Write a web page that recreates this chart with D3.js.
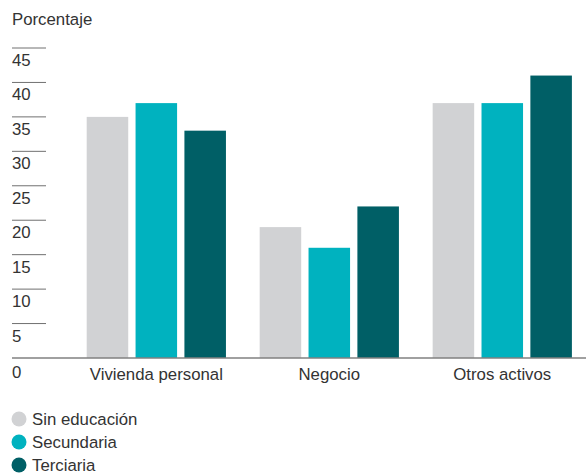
<!DOCTYPE html>
<html>
<head>
<meta charset="utf-8">
<script src="https://cdn.jsdelivr.net/npm/d3@7"></script>
<style>
  html, body { margin: 0; padding: 0; background: #fff; }
  svg { display: block; }
  text { font-family: "Liberation Sans", Arial, sans-serif; fill: #333; }
</style>
</head>
<body>
<svg id="chart" width="586" height="474"></svg>
<script>
// Categories and series
const categories = ["Vivienda personal", "Negocio", "Otros activos"];
const seriesNames = ["Sin educación", "Secundaria", "Terciaria"];
const seriesColors = ["#d1d2d4", "#00b2bf", "#005f66"];
const sinEducacion = [35, 19, 37];
const secundaria = [37, 16, 37];
const terciaria = [33, 22, 41];
const tickValues = [0, 5, 10, 15, 20, 25, 30, 35, 40, 45];
const yTitle = "Porcentaje";

const seriesValues = [sinEducacion, secundaria, terciaria];

const svg = d3.select("#chart");
const W = 586;
const FS = 16.8;

const y = d3.scaleLinear().domain([0, 45]).range([358, 48]);

const x0 = d3.scaleBand()
  .domain(categories)
  .range([69.4, 589.2])
  .paddingInner(0.195)
  .paddingOuter(0.1);

const x1 = d3.scaleBand()
  .domain(seriesNames)
  .range([0, x0.bandwidth()])
  .paddingInner(0.15)
  .paddingOuter(0);

// Axis title
svg.append("text")
  .attr("x", 12)
  .attr("y", 25)
  .attr("font-size", FS)
  .text(yTitle);

// Y ticks: short rule above each label
const yTicks = svg.append("g");
tickValues.filter(v => v > 0).forEach(v => {
  yTicks.append("line")
    .attr("x1", 12).attr("x2", 46)
    .attr("y1", y(v)).attr("y2", y(v))
    .attr("stroke", "#707070").attr("stroke-width", 1);
});
tickValues.forEach(v => {
  yTicks.append("text")
    .attr("x", 12)
    .attr("y", y(v) + (v === 0 ? 20 : 18))
    .attr("font-size", FS)
    .text(v);
});

// Bars
const groups = svg.append("g").selectAll("g")
  .data(categories)
  .join("g")
  .attr("transform", d => `translate(${x0(d)},0)`);

groups.selectAll("rect")
  .data((d, i) => seriesNames.map((s, j) => ({ s, j, v: seriesValues[j][i] })))
  .join("rect")
  .attr("x", d => x1(d.s))
  .attr("width", x1.bandwidth())
  .attr("y", d => y(d.v))
  .attr("height", d => y(0) - y(d.v))
  .attr("fill", d => seriesColors[d.j]);

// Baseline
svg.append("line")
  .attr("x1", 12).attr("x2", W)
  .attr("y1", y(0)).attr("y2", y(0))
  .attr("stroke", "#808080").attr("stroke-width", 1.5);

// Category labels
svg.append("g").selectAll("text")
  .data(categories)
  .join("text")
  .attr("x", d => x0(d) + x0.bandwidth() / 2)
  .attr("y", 380)
  .attr("text-anchor", "middle")
  .attr("font-size", FS)
  .text(d => d);

// Legend
const legend = svg.append("g").selectAll("g")
  .data(seriesNames)
  .join("g")
  .attr("transform", (d, i) => `translate(0,${419 + i * 23})`);

legend.append("circle")
  .attr("cx", 19).attr("cy", 0).attr("r", 7.5)
  .attr("fill", (d, i) => seriesColors[i]);

legend.append("text")
  .attr("x", 32).attr("y", 6)
  .attr("font-size", FS)
  .text(d => d);
</script>
</body>
</html>
